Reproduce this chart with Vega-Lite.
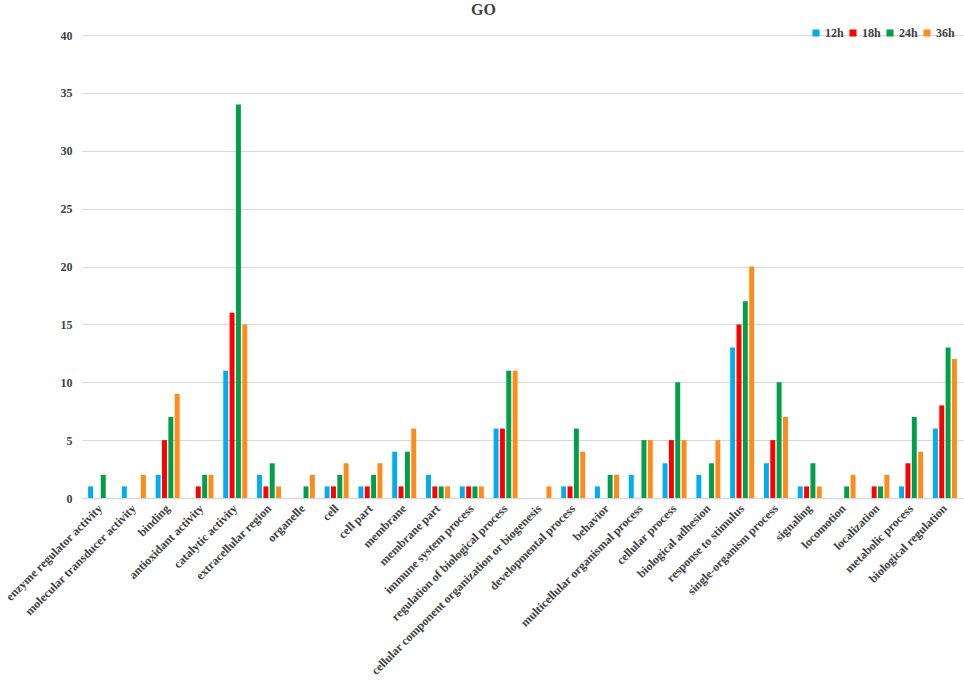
{
  "$schema": "https://vega.github.io/schema/vega-lite/v6.json",
  "width": 881,
  "height": 463,
  "autosize": "none",
  "padding": {"left": 82, "top": 35, "right": 1, "bottom": 187},
  "background": "white",
  "title": {"text": "GO", "font": "Liberation Serif", "fontSize": 16, "fontWeight": "bold", "color": "#404040", "anchor": "middle", "dx": -39, "offset": 9},
  "data": {"values": [
    {"term": "enzyme regulator activity", "time": "12h", "count": 1},
    {"term": "enzyme regulator activity", "time": "18h", "count": 0},
    {"term": "enzyme regulator activity", "time": "24h", "count": 2},
    {"term": "enzyme regulator activity", "time": "36h", "count": 0},
    {"term": "molecular transducer activity", "time": "12h", "count": 1},
    {"term": "molecular transducer activity", "time": "18h", "count": 0},
    {"term": "molecular transducer activity", "time": "24h", "count": 0},
    {"term": "molecular transducer activity", "time": "36h", "count": 2},
    {"term": "binding", "time": "12h", "count": 2},
    {"term": "binding", "time": "18h", "count": 5},
    {"term": "binding", "time": "24h", "count": 7},
    {"term": "binding", "time": "36h", "count": 9},
    {"term": "antioxidant activity", "time": "12h", "count": 0},
    {"term": "antioxidant activity", "time": "18h", "count": 1},
    {"term": "antioxidant activity", "time": "24h", "count": 2},
    {"term": "antioxidant activity", "time": "36h", "count": 2},
    {"term": "catalytic activity", "time": "12h", "count": 11},
    {"term": "catalytic activity", "time": "18h", "count": 16},
    {"term": "catalytic activity", "time": "24h", "count": 34},
    {"term": "catalytic activity", "time": "36h", "count": 15},
    {"term": "extracellular region", "time": "12h", "count": 2},
    {"term": "extracellular region", "time": "18h", "count": 1},
    {"term": "extracellular region", "time": "24h", "count": 3},
    {"term": "extracellular region", "time": "36h", "count": 1},
    {"term": "organelle", "time": "12h", "count": 0},
    {"term": "organelle", "time": "18h", "count": 0},
    {"term": "organelle", "time": "24h", "count": 1},
    {"term": "organelle", "time": "36h", "count": 2},
    {"term": "cell", "time": "12h", "count": 1},
    {"term": "cell", "time": "18h", "count": 1},
    {"term": "cell", "time": "24h", "count": 2},
    {"term": "cell", "time": "36h", "count": 3},
    {"term": "cell part", "time": "12h", "count": 1},
    {"term": "cell part", "time": "18h", "count": 1},
    {"term": "cell part", "time": "24h", "count": 2},
    {"term": "cell part", "time": "36h", "count": 3},
    {"term": "membrane", "time": "12h", "count": 4},
    {"term": "membrane", "time": "18h", "count": 1},
    {"term": "membrane", "time": "24h", "count": 4},
    {"term": "membrane", "time": "36h", "count": 6},
    {"term": "membrane part", "time": "12h", "count": 2},
    {"term": "membrane part", "time": "18h", "count": 1},
    {"term": "membrane part", "time": "24h", "count": 1},
    {"term": "membrane part", "time": "36h", "count": 1},
    {"term": "immune system process", "time": "12h", "count": 1},
    {"term": "immune system process", "time": "18h", "count": 1},
    {"term": "immune system process", "time": "24h", "count": 1},
    {"term": "immune system process", "time": "36h", "count": 1},
    {"term": "regulation of biological process", "time": "12h", "count": 6},
    {"term": "regulation of biological process", "time": "18h", "count": 6},
    {"term": "regulation of biological process", "time": "24h", "count": 11},
    {"term": "regulation of biological process", "time": "36h", "count": 11},
    {"term": "cellular component organization or biogenesis", "time": "12h", "count": 0},
    {"term": "cellular component organization or biogenesis", "time": "18h", "count": 0},
    {"term": "cellular component organization or biogenesis", "time": "24h", "count": 0},
    {"term": "cellular component organization or biogenesis", "time": "36h", "count": 1},
    {"term": "developmental process", "time": "12h", "count": 1},
    {"term": "developmental process", "time": "18h", "count": 1},
    {"term": "developmental process", "time": "24h", "count": 6},
    {"term": "developmental process", "time": "36h", "count": 4},
    {"term": "behavior", "time": "12h", "count": 1},
    {"term": "behavior", "time": "18h", "count": 0},
    {"term": "behavior", "time": "24h", "count": 2},
    {"term": "behavior", "time": "36h", "count": 2},
    {"term": "multicellular organismal process", "time": "12h", "count": 2},
    {"term": "multicellular organismal process", "time": "18h", "count": 0},
    {"term": "multicellular organismal process", "time": "24h", "count": 5},
    {"term": "multicellular organismal process", "time": "36h", "count": 5},
    {"term": "cellular process", "time": "12h", "count": 3},
    {"term": "cellular process", "time": "18h", "count": 5},
    {"term": "cellular process", "time": "24h", "count": 10},
    {"term": "cellular process", "time": "36h", "count": 5},
    {"term": "biological adhesion", "time": "12h", "count": 2},
    {"term": "biological adhesion", "time": "18h", "count": 0},
    {"term": "biological adhesion", "time": "24h", "count": 3},
    {"term": "biological adhesion", "time": "36h", "count": 5},
    {"term": "response to stimulus", "time": "12h", "count": 13},
    {"term": "response to stimulus", "time": "18h", "count": 15},
    {"term": "response to stimulus", "time": "24h", "count": 17},
    {"term": "response to stimulus", "time": "36h", "count": 20},
    {"term": "single-organism process", "time": "12h", "count": 3},
    {"term": "single-organism process", "time": "18h", "count": 5},
    {"term": "single-organism process", "time": "24h", "count": 10},
    {"term": "single-organism process", "time": "36h", "count": 7},
    {"term": "signaling", "time": "12h", "count": 1},
    {"term": "signaling", "time": "18h", "count": 1},
    {"term": "signaling", "time": "24h", "count": 3},
    {"term": "signaling", "time": "36h", "count": 1},
    {"term": "locomotion", "time": "12h", "count": 0},
    {"term": "locomotion", "time": "18h", "count": 0},
    {"term": "locomotion", "time": "24h", "count": 1},
    {"term": "locomotion", "time": "36h", "count": 2},
    {"term": "localization", "time": "12h", "count": 0},
    {"term": "localization", "time": "18h", "count": 1},
    {"term": "localization", "time": "24h", "count": 1},
    {"term": "localization", "time": "36h", "count": 2},
    {"term": "metabolic process", "time": "12h", "count": 1},
    {"term": "metabolic process", "time": "18h", "count": 3},
    {"term": "metabolic process", "time": "24h", "count": 7},
    {"term": "metabolic process", "time": "36h", "count": 4},
    {"term": "biological regulation", "time": "12h", "count": 6},
    {"term": "biological regulation", "time": "18h", "count": 8},
    {"term": "biological regulation", "time": "24h", "count": 13},
    {"term": "biological regulation", "time": "36h", "count": 12}
  ]},
  "mark": {"type": "bar"},
  "encoding": {
    "x": {
      "field": "term", "type": "nominal", "sort": null,
      "scale": {"paddingInner": 0.29, "paddingOuter": 0.18},
      "axis": {"title": null, "labelAngle": -45, "labelAlign": "right", "labelBaseline": "middle", "labelFont": "Liberation Serif", "labelFontWeight": "bold", "labelFontSize": 12, "labelColor": "#404040", "ticks": false, "labelPadding": 8, "domainColor": "#D9D9D9", "domainWidth": 1.5, "labelOverlap": false, "labelLimit": 400}
    },
    "xOffset": {"field": "time", "type": "nominal", "sort": ["12h", "18h", "24h", "36h"], "scale": {"paddingInner": 0.22}},
    "y": {
      "field": "count", "type": "quantitative",
      "scale": {"domain": [0, 40]},
      "axis": {"title": null, "values": [0, 5, 10, 15, 20, 25, 30, 35, 40], "labelOverlap": false, "domain": false, "ticks": false, "labelFont": "Liberation Serif", "labelFontWeight": "bold", "labelFontSize": 12, "labelColor": "#404040", "labelPadding": 10, "gridColor": "#D9D9D9", "gridWidth": 1}
    },
    "color": {
      "field": "time", "type": "nominal",
      "scale": {"domain": ["12h", "18h", "24h", "36h"], "range": ["#00AEEF", "#FF0000", "#00A04A", "#FF8C1A"]},
      "legend": {"title": null, "orient": "none", "legendX": 728, "legendY": -8, "direction": "horizontal", "symbolType": "square", "symbolSize": 50, "labelFont": "Liberation Serif", "labelFontWeight": "bold", "labelFontSize": 12, "labelColor": "#404040", "columnPadding": 3, "symbolOffset": 0, "labelOffset": 3}
    }
  },
  "config": {"view": {"stroke": null}}
}
